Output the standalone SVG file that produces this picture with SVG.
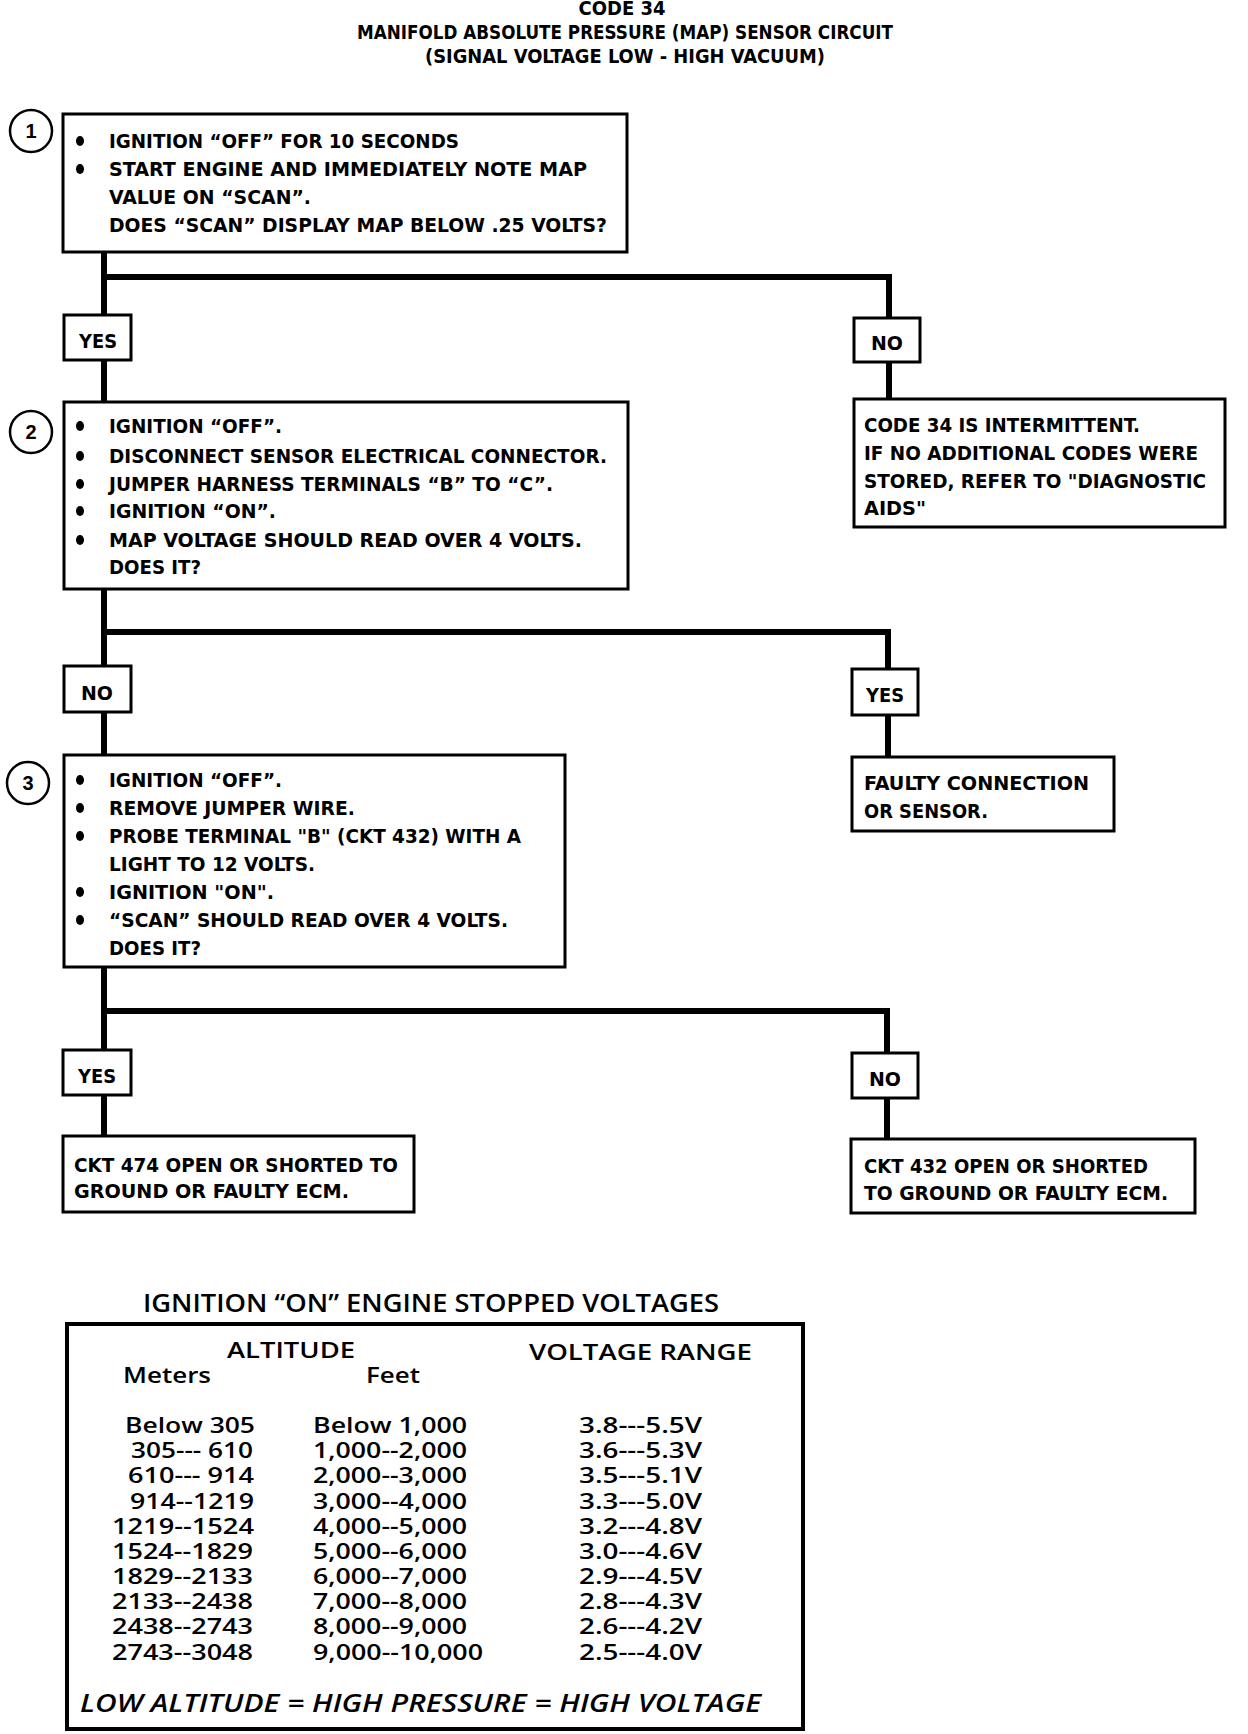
<svg xmlns="http://www.w3.org/2000/svg" width="1248" height="1734" viewBox="0 0 1248 1734">
<style>
.bg{fill:#fff}
.box{fill:#fff;stroke:#000;stroke-width:3}
.lbl{fill:#fff;stroke:#000;stroke-width:3}
.con{fill:none;stroke:#000;stroke-width:6;stroke-linejoin:miter}
.circ{fill:#fff;stroke:#000;stroke-width:2.5}
.t{font-family:"Liberation Sans Narrow","DejaVu Sans Condensed","Liberation Sans",Arial,sans-serif;font-weight:bold;font-size:19px;fill:#000}
.h{font-family:"Liberation Sans Narrow","DejaVu Sans Condensed","Liberation Sans",Arial,sans-serif;font-weight:bold;font-size:19px;fill:#000;text-anchor:middle}
.c{text-anchor:middle}
.n{font-family:"Liberation Sans",Arial,sans-serif;font-size:20px;font-weight:bold;fill:#000}
.tb{font-family:"Open Sans","Liberation Sans",Arial,sans-serif;font-size:21px;font-weight:600;fill:#000}
.th{font-family:"Open Sans","Liberation Sans",Arial,sans-serif;font-size:22px;font-weight:600;fill:#000}
.it{font-family:"Open Sans","Liberation Sans",Arial,sans-serif;font-size:25px;font-style:italic;font-weight:600;fill:#000}
.bul{fill:#000}
</style>
<rect class="bg" x="0" y="0" width="1248" height="1734"/>

<g id="title">
<text class="h" x="622" y="15" textLength="87" lengthAdjust="spacingAndGlyphs">CODE 34</text>
<text class="h" x="625" y="39" textLength="536" lengthAdjust="spacingAndGlyphs">MANIFOLD ABSOLUTE PRESSURE (MAP) SENSOR CIRCUIT</text>
<text class="h" x="625" y="63" textLength="400" lengthAdjust="spacingAndGlyphs">(SIGNAL VOLTAGE LOW - HIGH VACUUM)</text>
</g>

<g id="connectors">
<polyline class="con" points="104,252 104,402"/>
<polyline class="con" points="104,277 889,277 889,399"/>
<polyline class="con" points="104,589 104,755"/>
<polyline class="con" points="104,632 888,632 888,757"/>
<polyline class="con" points="104,967 104,1136"/>
<polyline class="con" points="104,1011 887,1011 887,1139"/>
</g>

<g id="step1">
<circle class="circ" cx="31" cy="131" r="21"/>
<text class="n c" x="31" y="138">1</text>
<rect class="box" x="63" y="114" width="564" height="138"/>
<ellipse class="bul" cx="80" cy="141" rx="4" ry="5"/>
<text class="t" x="109" y="148" textLength="350" lengthAdjust="spacingAndGlyphs">IGNITION “OFF” FOR 10 SECONDS</text>
<ellipse class="bul" cx="80" cy="169" rx="4" ry="5"/>
<text class="t" x="109" y="176" textLength="478" lengthAdjust="spacingAndGlyphs">START ENGINE AND IMMEDIATELY NOTE MAP</text>
<text class="t" x="109" y="204" textLength="202" lengthAdjust="spacingAndGlyphs">VALUE ON “SCAN”.</text>
<text class="t" x="109" y="232" textLength="498" lengthAdjust="spacingAndGlyphs">DOES “SCAN” DISPLAY MAP BELOW .25 VOLTS?</text>
</g>

<g id="yes1">
<rect class="lbl" x="64" y="315" width="67" height="45"/>
<text class="h" x="98" y="348" textLength="38" lengthAdjust="spacingAndGlyphs">YES</text>
</g>
<g id="no1">
<rect class="lbl" x="854" y="318" width="66" height="44"/>
<text class="h" x="887" y="350" textLength="32" lengthAdjust="spacingAndGlyphs">NO</text>
</g>

<g id="intermittent">
<rect class="box" x="854" y="399" width="371" height="128"/>
<text class="t" x="864" y="432" textLength="276" lengthAdjust="spacingAndGlyphs">CODE 34 IS INTERMITTENT.</text>
<text class="t" x="864" y="460" textLength="334" lengthAdjust="spacingAndGlyphs">IF NO ADDITIONAL CODES WERE</text>
<text class="t" x="864" y="488" textLength="342" lengthAdjust="spacingAndGlyphs">STORED, REFER TO "DIAGNOSTIC</text>
<text class="t" x="864" y="515" textLength="62" lengthAdjust="spacingAndGlyphs">AIDS"</text>
</g>

<g id="step2">
<circle class="circ" cx="31" cy="432" r="21"/>
<text class="n c" x="31" y="439">2</text>
<rect class="box" x="64" y="402" width="564" height="187"/>
<ellipse class="bul" cx="80" cy="426" rx="4" ry="5"/>
<text class="t" x="109" y="433" textLength="173" lengthAdjust="spacingAndGlyphs">IGNITION “OFF”.</text>
<ellipse class="bul" cx="80" cy="456" rx="4" ry="5"/>
<text class="t" x="109" y="463" textLength="498" lengthAdjust="spacingAndGlyphs">DISCONNECT SENSOR ELECTRICAL CONNECTOR.</text>
<ellipse class="bul" cx="80" cy="484" rx="4" ry="5"/>
<text class="t" x="109" y="491" textLength="444" lengthAdjust="spacingAndGlyphs">JUMPER HARNESS TERMINALS “B” TO “C”.</text>
<ellipse class="bul" cx="80" cy="511" rx="4" ry="5"/>
<text class="t" x="109" y="518" textLength="167" lengthAdjust="spacingAndGlyphs">IGNITION “ON”.</text>
<ellipse class="bul" cx="80" cy="540" rx="4" ry="5"/>
<text class="t" x="109" y="547" textLength="473" lengthAdjust="spacingAndGlyphs">MAP VOLTAGE SHOULD READ OVER 4 VOLTS.</text>
<text class="t" x="109" y="574" textLength="92" lengthAdjust="spacingAndGlyphs">DOES IT?</text>
</g>

<g id="no2">
<rect class="lbl" x="64" y="666" width="67" height="46"/>
<text class="h" x="97" y="700" textLength="32" lengthAdjust="spacingAndGlyphs">NO</text>
</g>
<g id="yes2">
<rect class="lbl" x="852" y="669" width="66" height="46"/>
<text class="h" x="885" y="702" textLength="38" lengthAdjust="spacingAndGlyphs">YES</text>
</g>

<g id="faulty">
<rect class="box" x="852" y="757" width="262" height="74"/>
<text class="t" x="864" y="790" textLength="225" lengthAdjust="spacingAndGlyphs">FAULTY CONNECTION</text>
<text class="t" x="864" y="818" textLength="124" lengthAdjust="spacingAndGlyphs">OR SENSOR.</text>
</g>

<g id="step3">
<circle class="circ" cx="28" cy="783" r="21"/>
<text class="n c" x="28" y="790">3</text>
<rect class="box" x="64" y="755" width="501" height="212"/>
<ellipse class="bul" cx="80" cy="780" rx="4" ry="5"/>
<text class="t" x="109" y="787" textLength="173" lengthAdjust="spacingAndGlyphs">IGNITION “OFF”.</text>
<ellipse class="bul" cx="80" cy="808" rx="4" ry="5"/>
<text class="t" x="109" y="815" textLength="246" lengthAdjust="spacingAndGlyphs">REMOVE JUMPER WIRE.</text>
<ellipse class="bul" cx="80" cy="836" rx="4" ry="5"/>
<text class="t" x="109" y="843" textLength="412" lengthAdjust="spacingAndGlyphs">PROBE TERMINAL "B" (CKT 432) WITH A</text>
<text class="t" x="109" y="871" textLength="206" lengthAdjust="spacingAndGlyphs">LIGHT TO 12 VOLTS.</text>
<ellipse class="bul" cx="80" cy="892" rx="4" ry="5"/>
<text class="t" x="109" y="899" textLength="165" lengthAdjust="spacingAndGlyphs">IGNITION "ON".</text>
<ellipse class="bul" cx="80" cy="920" rx="4" ry="5"/>
<text class="t" x="109" y="927" textLength="399" lengthAdjust="spacingAndGlyphs">“SCAN” SHOULD READ OVER 4 VOLTS.</text>
<text class="t" x="109" y="955" textLength="92" lengthAdjust="spacingAndGlyphs">DOES IT?</text>
</g>

<g id="yes3">
<rect class="lbl" x="63" y="1050" width="68" height="45"/>
<text class="h" x="97" y="1083" textLength="38" lengthAdjust="spacingAndGlyphs">YES</text>
</g>
<g id="no3">
<rect class="lbl" x="852" y="1053" width="66" height="45"/>
<text class="h" x="885" y="1086" textLength="32" lengthAdjust="spacingAndGlyphs">NO</text>
</g>

<g id="ckt474">
<rect class="box" x="63" y="1136" width="351" height="76"/>
<text class="t" x="74" y="1172" textLength="324" lengthAdjust="spacingAndGlyphs">CKT 474 OPEN OR SHORTED TO</text>
<text class="t" x="74" y="1198" textLength="275" lengthAdjust="spacingAndGlyphs">GROUND OR FAULTY ECM.</text>
</g>

<g id="ckt432">
<rect class="box" x="851" y="1139" width="344" height="74"/>
<text class="t" x="864" y="1173" textLength="284" lengthAdjust="spacingAndGlyphs">CKT 432 OPEN OR SHORTED</text>
<text class="t" x="864" y="1200" textLength="304" lengthAdjust="spacingAndGlyphs">TO GROUND OR FAULTY ECM.</text>
</g>

<g id="table">
<text class="th" x="143" y="1312" textLength="576" lengthAdjust="spacingAndGlyphs" style="font-size:26px">IGNITION “ON” ENGINE STOPPED VOLTAGES</text>
<rect x="67" y="1324" width="736" height="405" fill="#fff" stroke="#000" stroke-width="4"/>
<text class="th" x="227" y="1358" textLength="128" lengthAdjust="spacingAndGlyphs">ALTITUDE</text>
<text class="th" x="529" y="1360" textLength="223" lengthAdjust="spacingAndGlyphs">VOLTAGE RANGE</text>
<text class="th" x="123" y="1383" textLength="88" lengthAdjust="spacingAndGlyphs">Meters</text>
<text class="th" x="366" y="1383" textLength="54" lengthAdjust="spacingAndGlyphs">Feet</text>

<g text-anchor="end">
<text class="tb" x="255" y="1433" textLength="130" lengthAdjust="spacingAndGlyphs">Below 305</text>
<text class="tb" x="253" y="1458" textLength="122" lengthAdjust="spacingAndGlyphs">305--- 610</text>
<text class="tb" x="254" y="1483" textLength="126" lengthAdjust="spacingAndGlyphs">610--- 914</text>
<text class="tb" x="254" y="1509" textLength="124" lengthAdjust="spacingAndGlyphs">914--1219</text>
<text class="tb" x="254" y="1534" textLength="142" lengthAdjust="spacingAndGlyphs">1219--1524</text>
<text class="tb" x="253" y="1559" textLength="141" lengthAdjust="spacingAndGlyphs">1524--1829</text>
<text class="tb" x="253" y="1584" textLength="141" lengthAdjust="spacingAndGlyphs">1829--2133</text>
<text class="tb" x="253" y="1609" textLength="141" lengthAdjust="spacingAndGlyphs">2133--2438</text>
<text class="tb" x="253" y="1634" textLength="141" lengthAdjust="spacingAndGlyphs">2438--2743</text>
<text class="tb" x="253" y="1660" textLength="141" lengthAdjust="spacingAndGlyphs">2743--3048</text>
</g>

<text class="tb" x="313" y="1433" textLength="154" lengthAdjust="spacingAndGlyphs">Below 1,000</text>
<text class="tb" x="313" y="1458" textLength="154" lengthAdjust="spacingAndGlyphs">1,000--2,000</text>
<text class="tb" x="313" y="1483" textLength="154" lengthAdjust="spacingAndGlyphs">2,000--3,000</text>
<text class="tb" x="313" y="1509" textLength="154" lengthAdjust="spacingAndGlyphs">3,000--4,000</text>
<text class="tb" x="313" y="1534" textLength="154" lengthAdjust="spacingAndGlyphs">4,000--5,000</text>
<text class="tb" x="313" y="1559" textLength="154" lengthAdjust="spacingAndGlyphs">5,000--6,000</text>
<text class="tb" x="313" y="1584" textLength="154" lengthAdjust="spacingAndGlyphs">6,000--7,000</text>
<text class="tb" x="313" y="1609" textLength="154" lengthAdjust="spacingAndGlyphs">7,000--8,000</text>
<text class="tb" x="313" y="1634" textLength="154" lengthAdjust="spacingAndGlyphs">8,000--9,000</text>
<text class="tb" x="313" y="1660" textLength="170" lengthAdjust="spacingAndGlyphs">9,000--10,000</text>

<text class="tb" x="579" y="1433" textLength="123" lengthAdjust="spacingAndGlyphs">3.8---5.5V</text>
<text class="tb" x="579" y="1458" textLength="123" lengthAdjust="spacingAndGlyphs">3.6---5.3V</text>
<text class="tb" x="579" y="1483" textLength="123" lengthAdjust="spacingAndGlyphs">3.5---5.1V</text>
<text class="tb" x="579" y="1509" textLength="123" lengthAdjust="spacingAndGlyphs">3.3---5.0V</text>
<text class="tb" x="579" y="1534" textLength="123" lengthAdjust="spacingAndGlyphs">3.2---4.8V</text>
<text class="tb" x="579" y="1559" textLength="123" lengthAdjust="spacingAndGlyphs">3.0---4.6V</text>
<text class="tb" x="579" y="1584" textLength="123" lengthAdjust="spacingAndGlyphs">2.9---4.5V</text>
<text class="tb" x="579" y="1609" textLength="123" lengthAdjust="spacingAndGlyphs">2.8---4.3V</text>
<text class="tb" x="579" y="1634" textLength="123" lengthAdjust="spacingAndGlyphs">2.6---4.2V</text>
<text class="tb" x="579" y="1660" textLength="123" lengthAdjust="spacingAndGlyphs">2.5---4.0V</text>

<text class="it" x="80" y="1712" textLength="681" lengthAdjust="spacingAndGlyphs">LOW ALTITUDE  =  HIGH PRESSURE  =  HIGH VOLTAGE</text>
</g>
</svg>
